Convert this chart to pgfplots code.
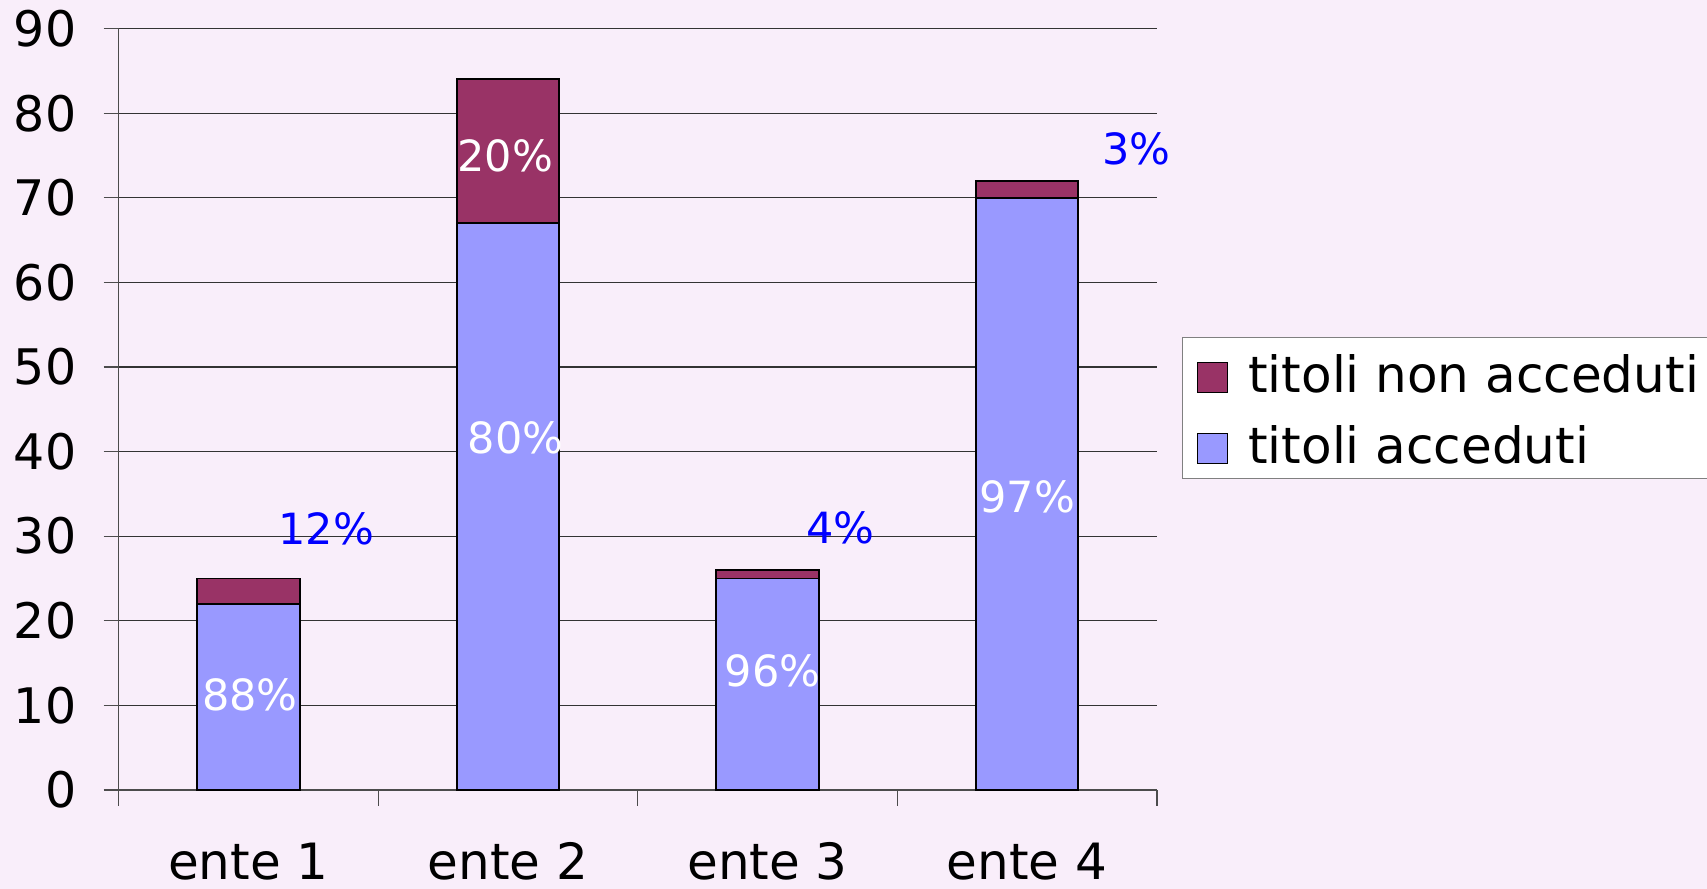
\documentclass[border=0pt]{standalone}
\usepackage{fontspec}
\setmainfont{DejaVu Sans}
\usepackage{pgfplots}
\pgfplotsset{compat=1.18}
\definecolor{bgc}{RGB}{249,238,250}
\definecolor{acc}{RGB}{153,153,255}
\definecolor{nonacc}{RGB}{153,51,102}
\newcommand\bigf{\fontsize{24.5}{28}\selectfont}
\newcommand\xf{\fontsize{25}{28}\selectfont}
\newcommand\lgf{\fontsize{25}{28}\selectfont}
\newcommand\labf{\fontsize{21.5}{25}\selectfont}
\begin{document}
\begin{tikzpicture}
\fill[bgc] (-59.3pt,-49.5pt) rectangle (794.25pt,395pt);
\begin{axis}[
  at={(0,0)}, anchor=south west,
  scale only axis, width=519.2pt, height=380.7pt,
  xmin=0.5, xmax=4.5, ymin=0, ymax=90,
  clip=false,
  ybar stacked, bar width=51.25pt,
  axis x line*=bottom, axis y line*=left,
  axis line style={-, black!70, line width=0.6pt},
  tick align=outside,
  major tick length=7.5pt, minor tick length=8pt,
  tick style={black!70, line width=0.6pt},
  xtick={1,2,3,4}, xticklabels={ente 1,ente 2,ente 3,ente 4},
  minor xtick={0.5,1.5,2.5,3.5,4.5},
  major x tick style={draw=none},
  ytick={0,10,...,90},
  ymajorgrids, major grid style={black!80, line width=0.6pt},
  /pgf/number format/assume math mode=true,
  xticklabel style={font=\xf, anchor=base, inner sep=0pt, text depth=0pt, yshift=-37.5pt},
  yticklabel style={font=\bigf, anchor=east, inner sep=0pt, text height=17.8pt, text depth=0pt, xshift=-13.5pt},
  legend style={at={(1.0242,0.5953)}, anchor=north west, draw=black!50, fill=white, line width=0.6pt,
    font=\lgf, inner xsep=7pt, inner ysep=4pt, row sep=8.65pt,
    nodes={text height=23.5pt, text depth=3.5pt, inner sep=0pt},
    /tikz/every odd column/.append style={column sep=10.25pt}},
  legend cell align=left,
  reverse legend,
  legend image code/.code={\draw[#1, draw=black, line width=0.6pt] (0pt,-10pt) rectangle (15pt,5pt);},
]
\addplot[fill=acc, draw=black, line width=0.9pt] coordinates {(1,22) (2,67) (3,25) (4,70)};
\addlegendentry{titoli acceduti}
\addplot[fill=nonacc, draw=black, line width=0.9pt] coordinates {(1,3) (2,17) (3,1) (4,2)};
\addlegendentry{titoli non acceduti}
\coordinate (l1) at (axis cs:1.006,11.3);
\coordinate (l2) at (axis cs:2.03,41.65);
\coordinate (l3) at (axis cs:1.99,74.9);
\coordinate (l4) at (axis cs:3.02,14.1);
\coordinate (l5) at (axis cs:4.0,34.7);
\coordinate (b1) at (axis cs:1.30,30.85);
\coordinate (b2) at (axis cs:3.28,31.0);
\coordinate (b3) at (axis cs:4.42,75.8);
\end{axis}
\node[text=white, font=\labf] at (l1) {88\%};
\node[text=white, font=\labf] at (l2) {80\%};
\node[text=white, font=\labf] at (l3) {20\%};
\node[text=white, font=\labf] at (l4) {96\%};
\node[text=white, font=\labf] at (l5) {97\%};
\node[text=blue, font=\labf] at (b1) {12\%};
\node[text=blue, font=\labf] at (b2) {4\%};
\node[text=blue, font=\labf] at (b3) {3\%};
\pgfresetboundingbox
\path (-59.3pt,-49.5pt) rectangle (794.25pt,395pt);
\end{tikzpicture}
\end{document}
